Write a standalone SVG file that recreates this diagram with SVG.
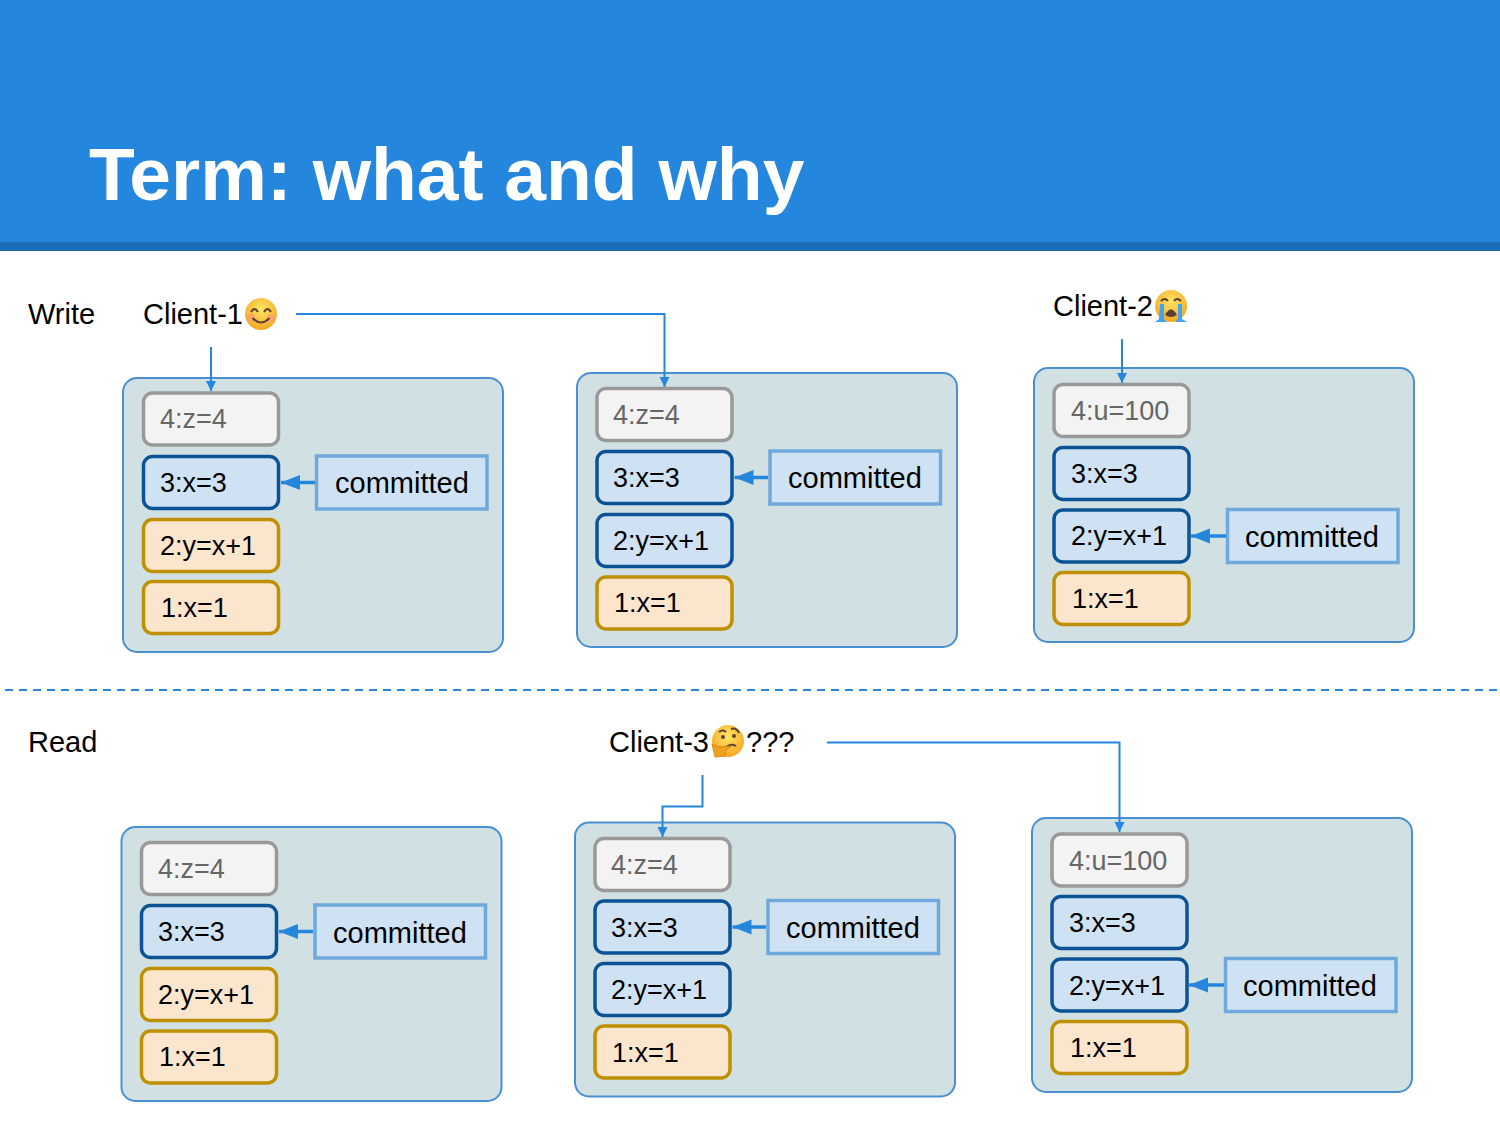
<svg xmlns="http://www.w3.org/2000/svg" width="1500" height="1125" viewBox="0 0 1500 1125">
<style>
text{font-family:"Liberation Sans",Arial,sans-serif;font-size:29px;fill:#000}
.title{font-size:75px;font-weight:bold;fill:#fff}
.panel{fill:#d0e0e3;stroke:#4a8fd0;stroke-width:2}
.e{stroke-width:3.500}
.g{fill:#f3f3f3;stroke:#999}
.b{fill:#cfe2f3;stroke:#0b5394}
.o{fill:#fce5cd;stroke:#bf9000}
.c{fill:#cfe2f3;stroke:#6fa8dc;stroke-width:3.500}
.t{font-size:27px}
.gt{font-size:27px;fill:#666}
.thin{fill:none;stroke:#2486dc;stroke-width:2}
.thick{fill:none;stroke:#2486dc;stroke-width:3.500}
.dash{fill:none;stroke:#2486dc;stroke-width:2;stroke-dasharray:8 6}
</style>
<defs>
<marker id="ah" markerUnits="userSpaceOnUse" markerWidth="12" markerHeight="12" refX="10" refY="6" orient="auto"><path d="M0 1L10 6L0 11z" fill="#2486dc"/></marker>
<marker id="ab" markerUnits="userSpaceOnUse" markerWidth="20" markerHeight="16" refX="19" refY="8" orient="auto"><path d="M0 0.500L19 8L0 15.500z" fill="#2486dc"/></marker>
<radialGradient id="face" cx="50%" cy="35%" r="65%"><stop offset="0" stop-color="#fee566"/><stop offset="1" stop-color="#f5a623"/></radialGradient>
</defs>
<rect width="1500" height="242" fill="#2486dc"/>
<rect y="242" width="1500" height="9" fill="#1c6db8"/>
<text class="title" x="89" y="200">Term: what and why</text>
<text x="28" y="324">Write</text>
<text x="28" y="752">Read</text>
<g id="client-1"><text x="143" y="324">Client-1</text>
<g transform="translate(261 314)"><circle r="16" fill="url(#face)"/><circle cx="-10" cy="4" r="4" fill="#f59a80" opacity=".6"/><circle cx="10" cy="4" r="4" fill="#f59a80" opacity=".6"/><path d="M-10 -2Q-6.500 -8 -3 -2M3 -2Q6.500 -8 10 -2M-8.500 4Q0 13 8.500 4" fill="none" stroke="#5d4037" stroke-width="2"/></g></g>
<g id="client-2"><text x="1053" y="316">Client-2</text>
<g transform="translate(1171 306)"><circle r="16" fill="url(#face)"/><path d="M-10 -5Q-6 -9 -3 -5M3 -5Q6 -9 10 -5" fill="none" stroke="#5d4037" stroke-width="2"/><path d="M-6 9Q0 -2 6 9Q0 13 -6 9z" fill="#5d4037"/><path d="M-11 -2H-7V13L-4 16H-16L-12 13zM7 -2H11V13L16 16H4L7 13z" fill="#42a5f0"/></g></g>
<g id="client-3"><text x="609" y="752">Client-3</text>
<g transform="translate(728 741)"><circle r="16" fill="url(#face)"/><path d="M-9 -9Q-5 -12 -2 -9M3 -12Q8 -14 11 -8" fill="none" stroke="#5d4037" stroke-width="2"/><circle cx="-5" cy="-4" r="2" fill="#5d4037"/><circle cx="6" cy="-5" r="2" fill="#5d4037"/><path d="M-2 6Q3 2 8 5" fill="none" stroke="#5d4037" stroke-width="2"/><path d="M-16 3L-9 6L4 5L-2 9L-3 15L-13 16z" fill="#f0a020" stroke="#d98a10" stroke-width="1"/></g>
<text x="746" y="752">???</text></g>

<g id="panel-w1"><rect class="panel" x="123" y="378" width="380" height="274" rx="14"/></g>
<g id="w1-4"><rect class="e g" x="143.500" y="393" width="135" height="52" rx="9"/><text class="gt" x="160" y="428">4:z=4</text></g>
<g id="w1-3"><rect class="e b" x="143.500" y="456.500" width="135" height="52" rx="9"/><text class="t" x="160" y="492">3:x=3</text></g>
<g id="w1-2"><rect class="e o" x="143.500" y="519.500" width="135" height="52" rx="9"/><text class="t" x="160" y="555">2:y=x+1</text></g>
<g id="w1-1"><rect class="e o" x="143.500" y="581.500" width="135" height="52" rx="9"/><text class="t" x="161" y="617">1:x=1</text></g>
<g id="w1-c"><rect class="c" x="316.500" y="456" width="170.500" height="53"/><text x="335" y="493">committed</text></g>

<g id="panel-w2"><rect class="panel" x="577" y="373" width="380" height="274" rx="14"/></g>
<g id="w2-4"><rect class="e g" x="597" y="388.500" width="135" height="52" rx="9"/><text class="gt" x="613" y="424">4:z=4</text></g>
<g id="w2-3"><rect class="e b" x="597" y="451.500" width="135" height="52" rx="9"/><text class="t" x="613" y="487">3:x=3</text></g>
<g id="w2-2"><rect class="e b" x="597" y="514.500" width="135" height="52" rx="9"/><text class="t" x="613" y="550">2:y=x+1</text></g>
<g id="w2-1"><rect class="e o" x="597" y="577" width="135" height="52" rx="9"/><text class="t" x="614" y="612">1:x=1</text></g>
<g id="w2-c"><rect class="c" x="770" y="451" width="170.500" height="53"/><text x="788" y="488">committed</text></g>

<g id="panel-w3"><rect class="panel" x="1034" y="368" width="380" height="274" rx="14"/></g>
<g id="w3-4"><rect class="e g" x="1054" y="384.500" width="135" height="52" rx="9"/><text class="gt" x="1071" y="420">4:u=100</text></g>
<g id="w3-3"><rect class="e b" x="1054" y="447.500" width="135" height="52" rx="9"/><text class="t" x="1071" y="483">3:x=3</text></g>
<g id="w3-2"><rect class="e b" x="1054" y="510" width="135" height="52" rx="9"/><text class="t" x="1071" y="545">2:y=x+1</text></g>
<g id="w3-1"><rect class="e o" x="1054" y="572.500" width="135" height="52" rx="9"/><text class="t" x="1072" y="608">1:x=1</text></g>
<g id="w3-c"><rect class="c" x="1227.500" y="509.500" width="170.500" height="53"/><text x="1245" y="547">committed</text></g>

<g id="panel-r1"><rect class="panel" x="121.500" y="827" width="380" height="274" rx="14"/></g>
<g id="r1-4"><rect class="e g" x="141.500" y="842.500" width="135" height="52" rx="9"/><text class="gt" x="158" y="878">4:z=4</text></g>
<g id="r1-3"><rect class="e b" x="141.500" y="905.500" width="135" height="52" rx="9"/><text class="t" x="158" y="941">3:x=3</text></g>
<g id="r1-2"><rect class="e o" x="141.500" y="968.500" width="135" height="52" rx="9"/><text class="t" x="158" y="1004">2:y=x+1</text></g>
<g id="r1-1"><rect class="e o" x="141.500" y="1031" width="135" height="52" rx="9"/><text class="t" x="159" y="1066">1:x=1</text></g>
<g id="r1-c"><rect class="c" x="315" y="905" width="170.500" height="53"/><text x="333" y="943">committed</text></g>

<g id="panel-r2"><rect class="panel" x="575" y="822.500" width="380" height="274" rx="14"/></g>
<g id="r2-4"><rect class="e g" x="595" y="838.500" width="135" height="52" rx="9"/><text class="gt" x="611" y="874">4:z=4</text></g>
<g id="r2-3"><rect class="e b" x="595" y="901" width="135" height="52" rx="9"/><text class="t" x="611" y="937">3:x=3</text></g>
<g id="r2-2"><rect class="e b" x="595" y="963.500" width="135" height="52" rx="9"/><text class="t" x="611" y="999">2:y=x+1</text></g>
<g id="r2-1"><rect class="e o" x="595" y="1026" width="135" height="52" rx="9"/><text class="t" x="612" y="1062">1:x=1</text></g>
<g id="r2-c"><rect class="c" x="768" y="900.500" width="170.500" height="53"/><text x="786" y="938">committed</text></g>

<g id="panel-r3"><rect class="panel" x="1032" y="818" width="380" height="274" rx="14"/></g>
<g id="r3-4"><rect class="e g" x="1052" y="834" width="135" height="52" rx="9"/><text class="gt" x="1069" y="870">4:u=100</text></g>
<g id="r3-3"><rect class="e b" x="1052" y="896.500" width="135" height="52" rx="9"/><text class="t" x="1069" y="932">3:x=3</text></g>
<g id="r3-2"><rect class="e b" x="1052" y="959" width="135" height="52" rx="9"/><text class="t" x="1069" y="995">2:y=x+1</text></g>
<g id="r3-1"><rect class="e o" x="1052" y="1021.500" width="135" height="52" rx="9"/><text class="t" x="1070" y="1057">1:x=1</text></g>
<g id="r3-c"><rect class="c" x="1225.500" y="958.500" width="170.500" height="53"/><text x="1243" y="996">committed</text></g>

<g id="connectors">
<path class="thin" marker-end="url(#ah)" d="M211 347L211 391"/>
<path class="thin" marker-end="url(#ah)" d="M296 314H664.500V387"/>
<path class="thin" marker-end="url(#ah)" d="M1122 339V383"/>
<path class="thin" marker-end="url(#ah)" d="M702.500 775V806.500H662.500V837"/>
<path class="thin" marker-end="url(#ah)" d="M827 742.500H1119.500V832"/>
<path class="thick" marker-end="url(#ab)" d="M315 482.500H281"/>
<path class="thick" marker-end="url(#ab)" d="M768 477.500H734.500"/>
<path class="thick" marker-end="url(#ab)" d="M1226 536H1191"/>
<path class="thick" marker-end="url(#ab)" d="M313 931.500H279"/>
<path class="thick" marker-end="url(#ab)" d="M766 927H732.500"/>
<path class="thick" marker-end="url(#ab)" d="M1224 985H1189"/>
<path class="dash" d="M5 690H1500"/>
</g>
</svg>
